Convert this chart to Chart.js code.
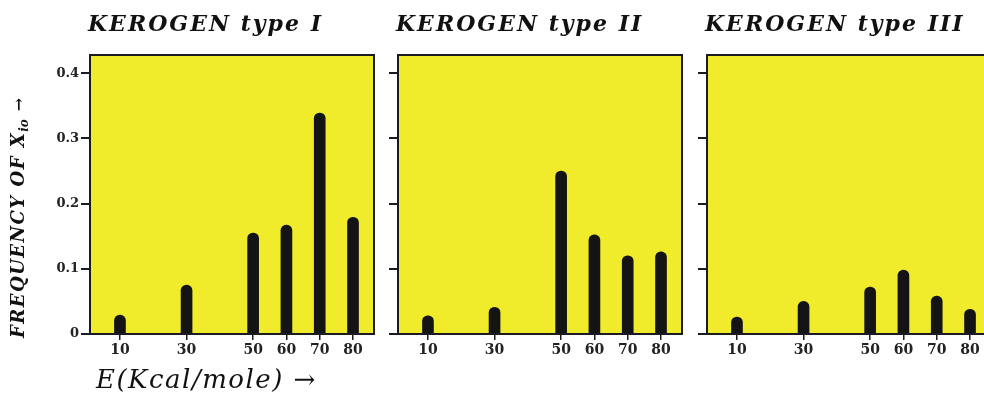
<!DOCTYPE html>
<html>
<head>
<meta charset="utf-8">
<script src="https://cdn.jsdelivr.net/npm/chart.js@4"></script>
<style>
  html, body { margin: 0; padding: 0; background: #fff; overflow: hidden; }
  body { width: 984px; height: 394px; position: relative; }
  .panel { position: absolute; top: 0; height: 394px; }
</style>
</head>
<body>
<div class="panel" style="left:0;width:380px"><canvas id="chart1"></canvas></div>
<div class="panel" style="left:380px;width:308px"><canvas id="chart2"></canvas></div>
<div class="panel" style="left:688px;width:310px"><canvas id="chart3"></canvas></div>
<script>
// activation energies (Kcal/mole)
const energies = [10, 30, 50, 60, 70, 80];
// frequency of X_io for each kerogen type
const typeI = [0.029, 0.075, 0.155, 0.167, 0.339, 0.179];
const typeII = [0.028, 0.041, 0.25, 0.152, 0.12, 0.126];
const typeIII = [0.026, 0.05, 0.072, 0.098, 0.058, 0.038];
const yTicks = [0, 0.1, 0.2, 0.3, 0.4];
const titles = ['KEROGEN type I', 'KEROGEN type II', 'KEROGEN type III'];

const ink = '#1b1b24';
const serif = '"DejaVu Serif", "Liberation Serif", serif';

const panelPlugin = {
    id: 'panelPlugin',
    beforeDraw(chart) {
        const a = chart.chartArea;
        const ctx = chart.ctx;
        ctx.save();
        ctx.fillStyle = '#f0ec2c';
        ctx.fillRect(a.left, a.top, a.right - a.left, a.bottom - a.top);
        ctx.restore();
    },
    afterDraw(chart, args, opts) {
        const a = chart.chartArea;
        const ctx = chart.ctx;
        ctx.save();
        ctx.strokeStyle = ink;
        ctx.lineWidth = 2;
        ctx.strokeRect(a.left, a.top, a.right - a.left, a.bottom - a.top);

        // panel title
        ctx.fillStyle = '#111';
        ctx.font = 'italic bold 22px ' + serif;
        ctx.letterSpacing = '2px';
        ctx.textBaseline = 'alphabetic';
        ctx.textAlign = 'left';
        ctx.fillText(opts.title, a.left - 2, 31);

        if (opts.axisTitles) {
            // x axis title
            ctx.font = 'italic 26px ' + serif;
            ctx.letterSpacing = '1.5px';
            ctx.fillText('E(Kcal/mole) \u2192', 96, 388);

            // y axis title, rotated
            ctx.translate(24, 338);
            ctx.rotate(-Math.PI / 2);
            ctx.font = 'italic bold 18px ' + serif;
            ctx.letterSpacing = '1.5px';
            let x = 0;
            const main = 'FREQUENCY OF X';
            ctx.fillText(main, x, 0);
            x += ctx.measureText(main).width;
            ctx.font = 'italic bold 12px ' + serif;
            ctx.letterSpacing = '0px';
            ctx.fillText('io', x, 4);
            x += ctx.measureText('io').width + 8;
            ctx.font = 'bold 16px ' + serif;
            ctx.fillText('\u2192', x, 0);
        }
        ctx.restore();
    }
};

function makeChart(id, values, title, opts) {
    new Chart(document.getElementById(id), {
        type: 'bar',
        data: {
            datasets: [{
                data: energies.map((e, i) => ({ x: e, y: values[i] })),
                backgroundColor: '#141414',
                barThickness: 11,
                borderRadius: 5.5,
            }],
        },
        options: {
            responsive: true,
            maintainAspectRatio: false,
            animation: false,
            layout: { padding: { left: 0, top: 55, right: opts.right, bottom: 0 } },
            plugins: {
                legend: { display: false },
                tooltip: { enabled: false },
                panelPlugin: { title: title, axisTitles: opts.axisTitles },
            },
            scales: {
                x: {
                    type: 'linear',
                    min: 1,
                    max: 86.3,
                    offset: false,
                    afterBuildTicks: (s) => { s.ticks = energies.map(v => ({ value: v })); },
                    afterFit: (s) => { s.height = 60; },
                    border: { display: false },
                    grid: { offset: false, drawOnChartArea: false, drawTicks: true, tickLength: 6, color: ink, lineWidth: 1.5 },
                    ticks: {
                        color: '#222',
                        padding: 2,
                        maxRotation: 0,
                        autoSkip: false,
                        font: { family: serif, size: 14, weight: 'bold' },
                    },
                },
                y: {
                    min: 0,
                    max: 0.428,
                    afterBuildTicks: (s) => { s.ticks = yTicks.map(v => ({ value: v })); },
                    afterFit: (s) => { s.width = opts.yWidth; },
                    border: { display: false },
                    grid: { drawOnChartArea: false, drawTicks: true, tickLength: 9, color: ink, lineWidth: 2 },
                    ticks: {
                        display: opts.axisTitles,
                        color: '#222',
                        padding: 2,
                        font: { family: serif, size: 13, weight: 'bold' },
                        callback: (v) => v === 0 ? '0' : v.toFixed(1),
                    },
                },
            },
        },
        plugins: [panelPlugin],
    });
}

makeChart('chart1', typeI, titles[0], { right: 6, yWidth: 90, axisTitles: true });
makeChart('chart2', typeII, titles[1], { right: 6, yWidth: 18, axisTitles: false });
makeChart('chart3', typeIII, titles[2], { right: 7, yWidth: 19, axisTitles: false });
</script>
</body>
</html>
